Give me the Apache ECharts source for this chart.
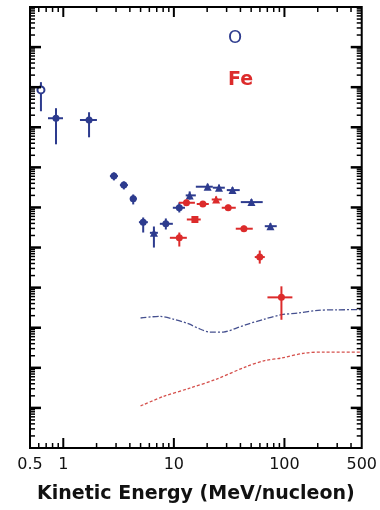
<!DOCTYPE html>
<html>
<head>
<meta charset="utf-8">
<script src="https://cdn.jsdelivr.net/npm/echarts@6/dist/echarts.min.js"></script>
<style>
  html, body { margin: 0; padding: 0; background: #fff; }
  #chart { width: 380px; height: 510px; }
</style>
</head>
<body>
<div id="chart"></div>
<script>
// Oxygen: kinetic energy (MeV/nucleon), intensity, and error-bar limits
const oEnergy     = [0.628, 0.859, 1.71, 2.87, 3.53, 4.29, 5.28, 6.60, 8.46, 11.2, 13.9, 20.2, 25.6, 33.9, 50.3, 74.7];
const oValue      = [856, 168, 152, 6.06, 3.61, 1.65, 0.429, 0.233, 0.391, 0.983, 2.00, 3.29, 3.11, 2.71, 1.36, 0.341];
const oEnergyLow  = [0.578, 0.727, 1.415, 2.64, 3.25, 4.00, 4.83, 6.07, 7.47, 9.79, 12.8, 15.8, 22.5, 30.1, 40.3, 66.4];
const oEnergyHigh = [0.683, 0.994, 2.015, 3.12, 3.84, 4.63, 5.82, 7.17, 9.79, 12.6, 15.8, 22.5, 28.9, 39.4, 63.6, 85.2];
const oValueLow   = [251, 37.6, 56.2, 4.73, 2.82, 1.19, 0.237, 0.100, 0.282, 0.75, 1.58, 2.77, 2.62, 2.28, 1.14, 0.287];
const oValueHigh  = [1334, 299, 237, 7.5, 4.47, 2.11, 0.562, 0.335, 0.531, 1.33, 2.51, 3.91, 3.70, 3.22, 1.62, 0.405];
const oSymbols    = ['emptyCircle', 'circle', 'circle', 'circle', 'circle', 'circle', 'circle', 'triangle',
                     'circle', 'circle', 'triangle', 'triangle', 'triangle', 'triangle', 'triangle', 'triangle'];

// Iron: kinetic energy (MeV/nucleon), intensity, and error-bar limits
const feEnergy     = [11.2, 13.0, 15.5, 18.3, 24.1, 31.0, 43.0, 59.8, 93.9];
const feValue      = [0.175, 1.31, 0.501, 1.22, 1.58, 0.983, 0.295, 0.0579, 0.00572];
const feEnergyLow  = [9.2, 11.1, 13.1, 16.1, 22.0, 27.1, 36.3, 53.9, 70.2];
const feEnergyHigh = [13.1, 15.5, 17.5, 20.7, 27.1, 36.3, 51.7, 66.4, 118];
const feValueLow   = [0.106, 1.10, 0.421, 1.03, 1.33, 0.827, 0.248, 0.0398, 0.00158];
const feValueHigh  = [0.237, 1.56, 0.596, 1.45, 1.88, 1.17, 0.351, 0.0841, 0.01078];
const feSymbols    = ['circle', 'circle', 'rect', 'circle', 'triangle', 'circle', 'circle', 'circle', 'circle'];

// Model curves: energy (MeV/nucleon) and intensity
const oCurveEnergy  = [5.0, 7.47, 9.85, 13.5, 17.2, 21.1, 27.9, 36.8, 46.1, 66.4, 93.9, 133, 201, 300, 500];
const oCurveValue   = [0.00175, 0.00192, 0.00165, 0.00126, 0.00093, 0.00078, 0.00078, 0.00098, 0.00122,
                       0.00165, 0.00211, 0.00233, 0.00271, 0.00280, 0.00282];
const feCurveEnergy = [5.0, 8.0, 13.9, 24.3, 45.4, 66.4, 93.9, 152, 231, 500];
const feCurveValue  = [1.12e-5, 1.92e-5, 3.11e-5, 5.22e-5, 1.08e-4, 1.52e-4, 1.75e-4, 2.33e-4, 2.47e-4, 2.47e-4];

// Axis ranges and tick positions
const xMin = 0.5, xMax = 500;
const yMin = 1e-6, yMax = 1e5;
const xTickLabels = ['0.5', '1', '10', '100', '500'];
const xMajorTicks = [1, 10, 100];
const xMinorTicks = [0.6, 0.7, 0.8, 0.9, 2, 3, 4, 5, 6, 7, 8, 9, 20, 30, 40, 50, 60, 70, 80, 90, 200, 300, 400];
const yDecades = [1e-6, 1e-5, 1e-4, 1e-3, 1e-2, 1e-1, 1, 10, 100, 1000, 1e4];
const minorSteps = [2, 3, 4, 5, 6, 7, 8, 9];
const yMajorTicks = yDecades.slice(1);
const yMinorTicks = [];
yDecades.forEach(d => minorSteps.forEach(m => yMinorTicks.push(m * d)));

const BLUE = '#2d3b8e';
const RED = '#dc2b2b';

function errorBars(color, xs, ys, xl, xh, yl, yh) {
  return {
    type: 'custom', z: 3, silent: true,
    data: xs.map((x, i) => [x, ys[i], xl[i], xh[i], yl[i], yh[i]]),
    encode: { x: 0, y: 1 },
    renderItem(params, api) {
      const x = api.value(0), y = api.value(1);
      const l = api.coord([api.value(2), y]), r = api.coord([api.value(3), y]);
      const b = api.coord([x, api.value(4)]), t = api.coord([x, api.value(5)]);
      const st = { stroke: color, lineWidth: 2 };
      return { type: 'group', children: [
        { type: 'line', shape: { x1: l[0], y1: l[1], x2: r[0], y2: r[1] }, style: st },
        { type: 'line', shape: { x1: b[0], y1: b[1], x2: t[0], y2: t[1] }, style: st }
      ]};
    }
  };
}

function markers(color, xs, ys, syms) {
  return {
    type: 'scatter', z: 4, silent: true,
    data: xs.map((x, i) => ({
      value: [x, ys[i]],
      symbol: syms[i],
      symbolSize: syms[i] === 'triangle' ? 8 : 7,
      itemStyle: { color: color, opacity: 1 }
    }))
  };
}

const chart = echarts.init(document.getElementById('chart'), null, { renderer: 'canvas' });
chart.setOption({
  animation: false,
  backgroundColor: '#fff',
  grid: {
    left: 30, right: 18, top: 7, bottom: 62,
    show: true, borderColor: '#000', borderWidth: 2, backgroundColor: 'transparent'
  },
  xAxis: {
    type: 'log', logBase: 10, min: xMin, max: xMax,
    axisLine: { show: false }, axisTick: { show: false }, splitLine: { show: false },
    axisLabel: {
      show: true, showMinLabel: true, showMaxLabel: true,
      margin: 9, fontSize: 16, fontFamily: 'DejaVu Sans', color: '#111',
      formatter: v => {
        const s = String(+Number(v).toPrecision(3));
        return xTickLabels.indexOf(s) >= 0 ? s : '';
      }
    },
    name: 'Kinetic Energy (MeV/nucleon)',
    nameLocation: 'middle', nameGap: 37,
    nameTextStyle: { fontSize: 19, fontWeight: 'bold', fontFamily: 'DejaVu Sans', color: '#111' }
  },
  yAxis: {
    type: 'log', logBase: 10, min: yMin, max: yMax,
    axisLine: { show: false }, axisTick: { show: false }, splitLine: { show: false },
    axisLabel: { show: false }
  },
  series: [
    {
      type: 'line', z: 2, silent: true, showSymbol: false, smooth: 0.3,
      data: oCurveEnergy.map((x, i) => [x, oCurveValue[i]]),
      lineStyle: { color: '#45508f', width: 1.3, type: [6, 2, 2, 2] }
    },
    {
      type: 'line', z: 2, silent: true, showSymbol: false, smooth: 0.3,
      data: feCurveEnergy.map((x, i) => [x, feCurveValue[i]]),
      lineStyle: { color: '#d5504c', width: 1.3, type: [3, 2] }
    },
    errorBars(BLUE, oEnergy, oValue, oEnergyLow, oEnergyHigh, oValueLow, oValueHigh),
    errorBars(RED, feEnergy, feValue, feEnergyLow, feEnergyHigh, feValueLow, feValueHigh),
    markers(BLUE, oEnergy, oValue, oSymbols),
    markers(RED, feEnergy, feValue, feSymbols)
  ]
});

// Inward tick marks on all four frame edges, positioned through the axis scales
const toX = v => chart.convertToPixel({ xAxisIndex: 0 }, v);
const toY = v => chart.convertToPixel({ yAxisIndex: 0 }, v);
const frameL = toX(xMin), frameR = toX(xMax), frameT = toY(yMax), frameB = toY(yMin);
const tickLines = [];
function addX(values, len, width) {
  values.forEach(v => {
    const px = toX(v);
    const style = { stroke: '#000', lineWidth: width };
    tickLines.push({ type: 'line', z: 100, silent: true, shape: { x1: px, y1: frameB, x2: px, y2: frameB - len }, style });
    tickLines.push({ type: 'line', z: 100, silent: true, shape: { x1: px, y1: frameT, x2: px, y2: frameT + len }, style });
  });
}
function addY(values, len, width) {
  values.forEach(v => {
    const py = toY(v);
    const style = { stroke: '#000', lineWidth: width };
    tickLines.push({ type: 'line', z: 100, silent: true, shape: { x1: frameL, y1: py, x2: frameL + len, y2: py }, style });
    tickLines.push({ type: 'line', z: 100, silent: true, shape: { x1: frameR, y1: py, x2: frameR - len, y2: py }, style });
  });
}
addX(xMajorTicks, 10, 2);
addX(xMinorTicks, 5, 1.5);
addY(yMajorTicks, 11, 2.5);
addY(yMinorTicks, 5, 1.5);

chart.setOption({
  graphic: [
    { type: 'text', left: 228, top: 29, z: 100, style: { text: 'O', fill: BLUE, font: '18px "DejaVu Sans"' } },
    { type: 'text', left: 228, top: 71, z: 100, style: { text: 'Fe', fill: RED, font: 'bold 19px "DejaVu Sans"' } }
  ].concat(tickLines)
});
</script>
</body>
</html>
